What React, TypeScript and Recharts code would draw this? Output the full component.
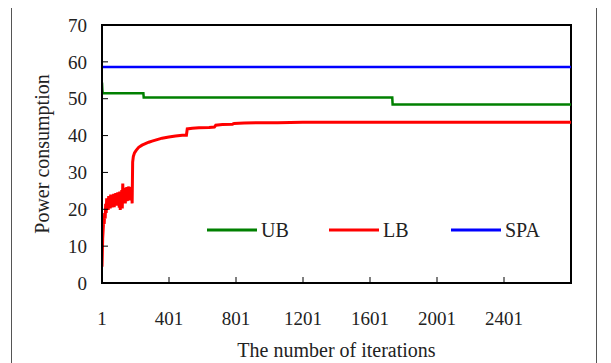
import React from 'react';
import { LineChart, Line, XAxis, YAxis, Label, Legend, ReferenceArea } from 'recharts';

// iterations on the x axis
const xTicks = [1, 401, 801, 1201, 1601, 2001, 2401];
const yTicks = [0, 10, 20, 30, 40, 50, 60, 70];

// SPA: flat
const spaIter = [1, 2801];
const spaPower = [58.6, 58.6];

// UB: steps down
const ubIter = [1, 3, 5, 248, 250, 1734, 1736, 2801];
const ubPower = [54.4, 52.5, 51.5, 51.5, 50.3, 50.3, 48.4, 48.4];

// LB: noisy rise then settles
const lbIter = [
  1, 3, 5, 8, 11, 14, 17, 20, 23, 26, 29, 32, 35, 38, 41, 44, 47, 50, 53, 56,
  59, 62, 65, 68, 71, 74, 77, 80, 83, 86, 89, 92, 95, 98, 101, 104, 107, 110, 113, 116,
  119, 122, 125, 128, 131, 134, 137, 140, 143, 146, 149, 152, 155, 158, 161, 164, 167, 170, 173, 176,
  179, 181, 184, 188, 195, 205, 220, 240, 260, 280, 300, 330, 360, 400, 440, 480, 505, 510, 540, 580,
  640, 672, 680, 720, 780, 790, 850, 950, 1050, 1200, 1500, 2801,
];
const lbPower = [
  4.4, 8, 12, 14.5, 17, 16, 19, 17.5, 21.5, 19, 23, 20, 22.5, 19.8, 23.6, 20.4, 23, 20.2, 24, 20.8,
  23.2, 20.5, 23.8, 21, 24.2, 20.6, 23.5, 21.2, 24.4, 21, 23.8, 21.5, 24.6, 21.2, 24, 20.4, 24.8, 19.8, 24.2, 21.6,
  25.2, 20.2, 27, 21.8, 25.4, 22, 25.8, 21.6, 25, 22.6, 26, 22.2, 25.4, 22.8, 26.2, 22.4, 25.6, 23, 26, 23.2,
  25.2, 21.6, 32.8, 34.3, 35.3, 36, 36.8, 37.4, 37.8, 38.2, 38.5, 38.9, 39.3, 39.6, 39.9, 40.1, 40.1, 41.8, 42, 42.1,
  42.2, 42.3, 42.8, 43, 43.1, 43.3, 43.4, 43.5, 43.5, 43.6, 43.6, 43.6,
];

const spaData = spaIter.map((x, i) => ({ x, y: spaPower[i] }));
const ubData = ubIter.map((x, i) => ({ x, y: ubPower[i] }));
const lbData = lbIter.map((x, i) => ({ x, y: lbPower[i] }));

const series = [
  { name: 'UB', color: '#008000', data: ubData, width: 2.5 },
  { name: 'LB', color: '#ff0000', data: lbData, width: 3 },
  { name: 'SPA', color: '#0000ff', data: spaData, width: 2.5 },
];

const font = 'Liberation Serif, Times New Roman, serif';
const textColor = '#222';

const LegendContent: React.FC<any> = () => (
  <div style={{ position: 'relative', width: 340, height: 24, fontFamily: font, fontSize: 20, color: textColor }}>
    {series.map((s, i) => (
      <div key={s.name} style={{ position: 'absolute', left: i * 122, top: 0, display: 'flex', alignItems: 'center', height: 24 }}>
        <svg width={50} height={4} style={{ marginRight: 4 }}>
          <line x1={0} y1={2} x2={50} y2={2} stroke={s.color} strokeWidth={3} />
        </svg>
        <span style={{ lineHeight: '24px' }}>{s.name}</span>
      </div>
    ))}
  </div>
);

const App: React.FC = () => {
  return (
    <div style={{ position: 'relative', width: 611, height: 363, marginLeft: -8, marginTop: -8, overflow: 'hidden', background: '#fff' }}>
      <div style={{ position: 'absolute', left: 11, top: 5, width: 586, height: 400, border: '1px solid #555', boxSizing: 'border-box' }} />
      <LineChart width={611} height={363} margin={{ top: 25, right: 40, left: 0, bottom: 0 }} style={{ position: 'absolute', left: 0, top: 0 }}>
        <XAxis
          dataKey="x"
          type="number"
          domain={[1, 2801]}
          ticks={xTicks}
          allowDataOverflow
          height={80}
          axisLine={{ stroke: '#000', strokeWidth: 2 }}
          tickLine={{ stroke: '#000' }}
          tickSize={-6}
          tickMargin={35}
          tick={{ fill: textColor, fontSize: 19, fontFamily: font }}
        >
          <Label value="The number of iterations" position="insideBottom" offset={6} style={{ fill: textColor, fontSize: 20, fontFamily: font }} />
        </XAxis>
        <YAxis
          type="number"
          domain={[0, 70]}
          ticks={yTicks}
          width={102}
          axisLine={{ stroke: '#000', strokeWidth: 2 }}
          tickLine={{ stroke: '#000' }}
          tickSize={-6}
          tickMargin={21}
          tick={{ fill: textColor, fontSize: 19, fontFamily: font }}
        >
          <Label value="Power consumption" position="insideLeft" angle={-90} offset={42} style={{ textAnchor: 'middle', fill: textColor, fontSize: 20, fontFamily: font }} />
        </YAxis>
        <ReferenceArea x1={1} x2={2801} y1={0} y2={70} fill="none" stroke="#000" strokeWidth={2} />
        {series.map((s) => (
          <Line
            key={s.name}
            data={s.data}
            dataKey="y"
            name={s.name}
            type="linear"
            stroke={s.color}
            strokeWidth={s.width}
            dot={false}
            isAnimationActive={false}
          />
        ))}
        <Legend
          layout="horizontal"
          verticalAlign="middle"
          align="center"
          content={<LegendContent />}
          wrapperStyle={{ left: 207, top: 218, width: 340, height: 24 }}
        />
      </LineChart>
    </div>
  );
};

export default App;
